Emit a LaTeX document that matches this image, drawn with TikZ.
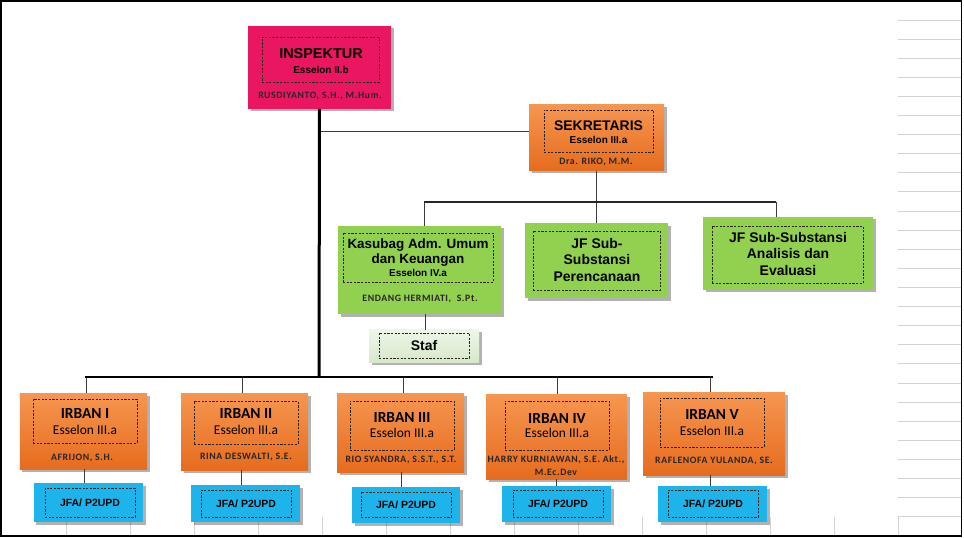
\documentclass[tikz,border=0pt]{standalone}
\usepackage{fontspec}
\setmainfont{Liberation Sans}
\newfontfamily\calfont{Carlito}
\newfontfamily\namefont[LetterSpace=6]{Carlito}
\usetikzlibrary{shadows}
\definecolor{pinkc}{RGB}{234,22,98}
\definecolor{orT}{RGB}{246,150,80}
\definecolor{orB}{RGB}{230,108,30}
\definecolor{greenc}{RGB}{146,208,80}
\definecolor{bluec}{RGB}{28,180,234}
\definecolor{stafT}{RGB}{238,246,232}
\definecolor{stafB}{RGB}{214,232,202}
\definecolor{dashc}{RGB}{45,35,25}
\definecolor{linec}{RGB}{60,60,60}
\definecolor{gridc}{RGB}{210,210,210}
\tikzset{
  base/.style={rectangle, inner sep=0pt, outer sep=0pt,
    drop shadow={shadow xshift=2.5bp, shadow yshift=-2.5bp, fill=black, opacity=0.3}},
  pinkbox/.style={base, fill=pinkc},
  orangebox/.style={base, top color=orT, bottom color=orB},
  greenbox/.style={base, fill=greenc},
  bluebox/.style={base, fill=bluec},
  stafbox/.style={base, top color=stafT, bottom color=stafB},
  inbox/.style={rectangle, draw=dashc, dash pattern=on 2.2bp off 1.4bp, line width=0.8bp, inner sep=0pt, outer sep=0pt},
  txt/.style={inner sep=0pt, outer sep=0pt, align=center, text=black},
  bigt/.style={txt, font=\fontsize{14}{16}\selectfont\bfseries},
  midt/.style={txt, font=\fontsize{13.5}{15.5}\selectfont\bfseries},
  esst/.style={txt, font=\fontsize{10}{12}\selectfont\bfseries},
  namet/.style={txt, font=\namefont\bfseries\fontsize{9.8}{13}\selectfont, text=black!85},
  irbt/.style={txt, font=\calfont\bfseries\fontsize{15.5}{17}\selectfont},
  iesst/.style={txt, font=\calfont\fontsize{13.5}{15}\selectfont},
  jfat/.style={txt, font=\fontsize{10.5}{12}\selectfont\bfseries},
  thinln/.style={draw=linec, line width=1bp},
  thickln/.style={draw=black, line width=2.6bp},
  gbusln/.style={draw=black!85, line width=1.8bp},
  gridln/.style={draw=gridc, line width=0.8bp}
}
\begin{document}
\begin{tikzpicture}[x=1bp,y=-1bp]
\useasboundingbox (0,0) rectangle (964,538);
\fill[white] (0,0) rectangle (964,538);
% spreadsheet grid remnants
\foreach \k in {0,...,26} \draw[gridln] (898,{20+19.1*\k}) -- (961,{20+19.1*\k});
\foreach \k in {0,...,13} \draw[gridln] ({66+64*\k},517) -- ({66+64*\k},536);
\draw[black, line width=1.5bp] (1,1) rectangle (961.5,536);

% ---------- boxes ----------
% INSPEKTUR
\node[pinkbox, minimum width=143bp, minimum height=83bp] (ins) at (319.5,67.5) {};
\node[inbox, minimum width=117bp, minimum height=45bp] (insin) at (320.5,59.5) {};
\node[bigt, font=\fontsize{14.5}{16}\selectfont\bfseries] (inst) at (321,54) {INSPEKTUR};
\node[esst] (inse) at (321,70) {Esselon II.b};
\node[namet] (insn) at (320,96) {RUSDIYANTO, S.H., M.Hum.};

% SEKRETARIS
\node[orangebox, minimum width=135bp, minimum height=66bp] (sek) at (596.5,138) {};
\node[inbox, minimum width=109bp, minimum height=42bp] (sekin) at (598.5,131) {};
\node[bigt] (sekt) at (598.5,126) {SEKRETARIS};
\node[esst] (seke) at (598.5,140) {Esselon III.a};
\node[namet] (sekn) at (596,162) {Dra. RIKO, M.M.};

% Kasubag
\node[greenbox, minimum width=163bp, minimum height=88bp] (kas) at (419.5,270) {};
\node[inbox, minimum width=150bp, minimum height=49bp] (kasin) at (418,257.5) {};
\node[midt] (kast1) at (418,245) {Kasubag Adm. Umum};
\node[midt] (kast2) at (418,260) {dan Keuangan};
\node[esst] (kase) at (418,273) {Esselon IV.a};
\node[namet] (kasn) at (420,299) {ENDANG HERMIATI,\ \ S.Pt.};

% Staf
\node[stafbox, minimum width=110bp, minimum height=32bp] (staf) at (424,346) {};
\node[inbox, minimum width=90bp, minimum height=25bp] (stafin) at (424,345.5) {};
\node[bigt] (staft) at (424,345.5) {Staf};

% JF Perencanaan
\node[greenbox, minimum width=143bp, minimum height=75bp] (jfp) at (596.5,261) {};
\node[inbox, minimum width=127bp, minimum height=59bp] (jfpin) at (596.5,260.5) {};
\node[midt, font=\fontsize{14}{16.5}\selectfont\bfseries] (jfpt) at (597,260) {JF Sub-\\Substansi\\Perencanaan};

% JF Analisis
\node[greenbox, minimum width=170bp, minimum height=73bp] (jfa) at (788,253.5) {};
\node[inbox, minimum width=151bp, minimum height=57bp] (jfain) at (787.5,254.5) {};
\node[midt, font=\fontsize{14}{16.5}\selectfont\bfseries] (jfat) at (788,254) {JF Sub-Substansi\\Analisis dan\\Evaluasi};

% IRBAN I..V
\node[orangebox, minimum width=127bp, minimum height=76bp] (irb1) at (83.5,431) {};
\node[inbox, minimum width=104bp, minimum height=44bp] (irb1in) at (85,421) {};
\node[irbt] (irb1t) at (85,413) {IRBAN I};
\node[iesst] (irb1e) at (85,430) {Esselon III.a};
\node[namet] (irb1n) at (82,458) {AFRIJON, S.H.};

\node[orangebox, minimum width=127bp, minimum height=77bp] (irb2) at (244.5,431.5) {};
\node[inbox, minimum width=104bp, minimum height=43bp] (irb2in) at (246,422.5) {};
\node[irbt] (irb2t) at (246,413) {IRBAN II};
\node[iesst] (irb2e) at (246,430) {Esselon III.a};
\node[namet] (irb2n) at (246,457) {RINA DESWALTI, S.E.};

\node[orangebox, minimum width=127bp, minimum height=79bp] (irb3) at (400.5,432.5) {};
\node[inbox, minimum width=104bp, minimum height=49bp] (irb3in) at (402,425.5) {};
\node[irbt] (irb3t) at (402,417) {IRBAN III};
\node[iesst] (irb3e) at (402,433) {Esselon III.a};
\node[namet] (irb3n) at (401,460) {RIO SYANDRA, S.S.T., S.T.};

\node[orangebox, minimum width=141bp, minimum height=85bp] (irb4) at (556.5,436.5) {};
\node[inbox, minimum width=104bp, minimum height=49bp] (irb4in) at (557,425.5) {};
\node[irbt] (irb4t) at (557,418) {IRBAN IV};
\node[iesst] (irb4e) at (557,433) {Esselon III.a};
\node[namet] (irb4n) at (556,466) {HARRY KURNIAWAN, S.E. Akt.,\\M.Ec.Dev};

\node[orangebox, minimum width=142bp, minimum height=83bp] (irb5) at (714,433.5) {};
\node[inbox, minimum width=104bp, minimum height=49bp] (irb5in) at (712,422.5) {};
\node[irbt] (irb5t) at (712,414) {IRBAN V};
\node[iesst] (irb5e) at (712,431) {Esselon III.a};
\node[namet] (irb5n) at (714,461) {RAFLENOFA YULANDA, SE.};

% JFA boxes
\node[bluebox, minimum width=109bp, minimum height=39bp] (jf1) at (88.5,502.5) {};
\node[inbox, minimum width=90bp, minimum height=29bp] (jf1in) at (90,502.5) {};
\node[jfat] (jf1t) at (90,503) {JFA/ P2UPD};

\node[bluebox, minimum width=109bp, minimum height=37bp] (jf2) at (245.5,503.5) {};
\node[inbox, minimum width=90bp, minimum height=27bp] (jf2in) at (246,503.5) {};
\node[jfat] (jf2t) at (246,504) {JFA/ P2UPD};

\node[bluebox, minimum width=108bp, minimum height=36bp] (jf3) at (406,505) {};
\node[inbox, minimum width=90bp, minimum height=25bp] (jf3in) at (406,504.5) {};
\node[jfat] (jf3t) at (406,505) {JFA/ P2UPD};

\node[bluebox, minimum width=109bp, minimum height=36bp] (jf4) at (556.5,504) {};
\node[inbox, minimum width=90bp, minimum height=27bp] (jf4in) at (558,503.5) {};
\node[jfat] (jf4t) at (558,504) {JFA/ P2UPD};

\node[bluebox, minimum width=109bp, minimum height=36bp] (jf5) at (712.5,504) {};
\node[inbox, minimum width=90bp, minimum height=27bp] (jf5in) at (713,503.5) {};
\node[jfat] (jf5t) at (713,504) {JFA/ P2UPD};

% ---------- connectors ----------
\coordinate (mainbus) at (319,377);
\coordinate (busL) at (85,377);
\coordinate (busR) at (713,377);
\coordinate (sekj) at (319,132);
\coordinate (gbL) at (424,202);
\coordinate (gbM) at (596.5,202);
\coordinate (gbR) at (776,202);
\coordinate (b1) at (86,377);
\coordinate (b2) at (242,377);
\coordinate (b3) at (403,377);
\coordinate (b4) at (557,377);
\coordinate (b5) at (710,377);
\coordinate (d1) at (84,476);
\coordinate (d2) at (241,476);
\coordinate (d3) at (401,476);
\coordinate (d4) at (556,476);
\coordinate (d5) at (710,476);
\coordinate (ds) at (425,320);

\draw[thinln] (sekj) -- (sekj -| sek.west);
\draw[thinln] (sek.south) -- (gbM);
\draw[thinln] (gbL) -- (gbL |- kas.north);
\draw[thinln] (gbM) -- (gbM |- jfp.north);
\draw[thinln] (gbR) -- (gbR |- jfa.north);
\draw[thinln] (ds |- kas.south) -- (ds |- staf.north);
\draw[gbusln] (gbL) -- (gbR);
\foreach \i in {1,...,5} {
  \draw[thinln] (b\i) -- (b\i |- irb\i.north);
  \draw[thinln] (d\i |- irb\i.south) -- (d\i |- jf\i.north);
}
\draw[thickln] (busL) -- (busR);
\draw[thickln, line width=3bp] (ins.south) -- (mainbus);
\end{tikzpicture}
\end{document}
